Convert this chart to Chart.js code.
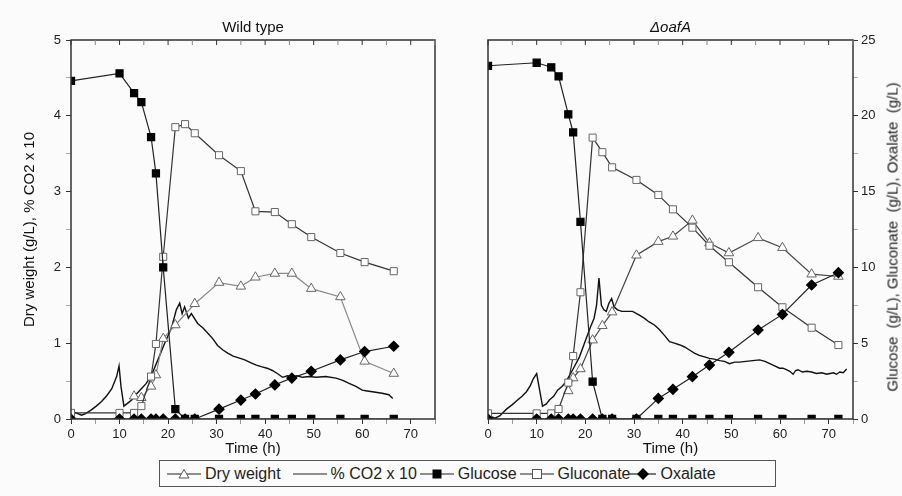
<!DOCTYPE html>
<html>
<head>
<meta charset="utf-8">
<script src="https://cdn.jsdelivr.net/npm/chart.js@4.4.1/dist/chart.umd.min.js"></script>
<style>
  body { margin: 0; background: #fbfbfb; font-family: "Liberation Sans", Arial, sans-serif; color: #222; }
  #wrap { position: relative; width: 902px; height: 496px; overflow: hidden; }
  .panel { position: absolute; top: 0; }
  #left-panel { left: 0; }
  #right-panel { left: 451px; }
  #g-title {
    position: absolute; left: 892px; top: 237px;
    transform: translate(-50%, -50%) rotate(-90deg);
    white-space: pre; font-size: 15px; color: #222;
  }
  #legend {
    position: absolute; left: 159px; top: 460px; width: 608px; height: 25px;
    border: 1.5px solid #555; background: #fbfbfb;
    display: flex; align-items: center; padding-left: 7px; box-sizing: content-box;
    font-size: 16px; color: #222;
  }
  #legend .item { display: flex; align-items: center; }
  #legend svg { margin-right: 4px; }
</style>
</head>
<body>
<div id="wrap">
  <canvas id="left-panel" class="panel" width="451" height="496"></canvas>
  <canvas id="right-panel" class="panel" width="451" height="496"></canvas>
  <div id="g-title">Glucose  (g/L), Gluconate  (g/L), Oxalate  (g/L)</div>
  <div id="legend"></div>
</div>
<script>
// ---- Wild type ----
const wtTime = [0, 10, 13, 14.5, 16.5, 17.5, 19, 21.5, 23.5, 25.5, 30.5, 35, 38, 42, 45.5, 49.5, 55.5, 60.5, 66.5];
const wtGlucose = [22.3, 22.8, 21.5, 20.9, 18.6, 16.2, 10.0, 0.65, 0, 0, 0, 0, 0, 0, 0, 0, 0, 0, 0];
const wtGluconate = [0.4, 0.4, 0.4, 0.85, 2.8, 4.95, 10.7, 19.25, 19.45, 18.85, 17.4, 16.35, 13.7, 13.65, 12.85, 12.0, 10.95, 10.35, 9.75];
const wtOxalate = [0, 0, 0, 0, 0, 0, 0, 0, 0, 0, 0.65, 1.25, 1.65, 2.25, 2.7, 3.15, 3.9, 4.45, 4.8];
const wtDryTime = [13, 14.5, 16.5, 17.5, 19, 21.5, 25.5, 30.5, 35, 38, 42, 45.5, 49.5, 55.5, 60.5, 66.5];
const wtDry = [0.30, 0.28, 0.43, 0.58, 1.06, 1.24, 1.52, 1.80, 1.75, 1.87, 1.92, 1.92, 1.72, 1.61, 0.76, 0.60];
const wtCo2Time = [0, 1, 2.2, 3, 4.2, 5.2, 6.3, 7.4, 8.4, 9.4, 9.9, 10.3, 10.9, 11.7, 12.5, 13.5, 14.5, 15.5, 16.6, 17.9,
  19.3, 20.7, 21.7, 22.4, 22.9, 23.4, 24.2, 24.8, 26.1, 27.2, 28.2, 29.2, 30.2, 31.3, 32.3, 33.4, 34.4, 35.8, 37.1, 38.2,
  39.2, 40.4, 41.5, 42.5, 43.6, 44.6, 45.6, 46.6, 47.7, 49.1, 50.5, 52.5, 54.6, 56, 57.3, 58.7, 60, 61, 62.1, 63.1,
  64.1, 65.5, 66.3];
const wtCo2 = [0.1, 0.08, 0.05, 0.07, 0.12, 0.17, 0.23, 0.31, 0.4, 0.56, 0.7, 0.43, 0.17, 0.21, 0.25, 0.33, 0.4, 0.47, 0.58, 0.78,
  1.0, 1.2, 1.44, 1.53, 1.39, 1.48, 1.33, 1.39, 1.26, 1.2, 1.13, 1.06, 0.97, 0.91, 0.87, 0.83, 0.81, 0.78, 0.74, 0.71,
  0.69, 0.67, 0.64, 0.6, 0.55, 0.57, 0.56, 0.57, 0.55, 0.56, 0.55, 0.56, 0.54, 0.51, 0.47, 0.43, 0.38, 0.37, 0.36, 0.35,
  0.34, 0.32, 0.27];

// ---- oafA deletion ----
const koTime = [0, 10, 13, 14.5, 16.5, 17.5, 19, 21.5, 23.5, 25.5, 30.5, 35, 38, 42, 45.5, 49.5, 55.5, 60.5, 66.5, 72];
const koGlucose = [23.3, 23.5, 23.2, 22.6, 20.1, 18.9, 13.0, 2.46, 0, 0, 0, 0, 0, 0, 0, 0, 0, 0, 0, 0];
const koGluconate = [0.37, 0.37, 0.37, 0.66, 2.4, 4.15, 8.36, 18.56, 17.6, 16.6, 15.77, 14.78, 13.83, 12.62, 11.43, 10.34, 8.69, 7.37, 6.02, 4.88];
const koOxalate = [0, 0, 0, 0, 0, 0, 0, 0, 0, 0, 0, 1.36, 1.96, 2.79, 3.56, 4.4, 5.87, 6.9, 8.84, 9.65];
const koDryTime = [16.5, 17.5, 19, 21.5, 23.5, 25.5, 30.5, 35, 38, 42, 45.5, 49.5, 55.5, 60.5, 66.5, 72];
const koDry = [0.37, 0.54, 0.66, 1.04, 1.23, 1.41, 2.16, 2.34, 2.41, 2.62, 2.32, 2.19, 2.39, 2.26, 1.91, 1.88];
const koCo2Time = [0, 1.4, 2.4, 3.8, 5, 5.9, 7, 7.9, 8.7, 9.3, 10, 10.5, 11.2, 12, 12.6, 13.5, 14.3, 15.2, 16, 17.4,
  18.8, 20.1, 21.1, 21.8, 22.3, 22.8, 23.3, 23.8, 24.3, 24.8, 25.4, 25.9, 26.6, 27.5, 28.3, 29.7, 31.1, 32.1, 33.1, 34.2,
  35.2, 36.3, 37.3, 38.3, 39.3, 40.4, 41.4, 42.4, 43.4, 44.5, 45.5, 46.5, 47.6, 48.6, 49.6, 50.7, 51.7, 53, 54.4, 55.8,
  56.9, 57.9, 58.9, 59.9, 60.6, 61.3, 62, 62.7, 63.2, 63.7, 64.6, 65.5, 66.5, 67.5, 68.6, 69.6, 70.3, 71, 71.6, 72.3,
  73, 73.7];
const koCo2 = [0.05, 0.01, 0.04, 0.13, 0.19, 0.24, 0.3, 0.36, 0.44, 0.53, 0.6, 0.42, 0.17, 0.2, 0.25, 0.3, 0.38, 0.43, 0.49, 0.65,
  0.82, 1.05, 1.22, 1.33, 1.5, 1.86, 1.5, 1.44, 1.42, 1.52, 1.59, 1.48, 1.44, 1.42, 1.42, 1.42, 1.37, 1.33, 1.28, 1.24,
  1.18, 1.1, 1.02, 1.0, 0.98, 0.95, 0.91, 0.87, 0.84, 0.82, 0.8, 0.79, 0.77, 0.76, 0.73, 0.75, 0.75, 0.76, 0.77, 0.78,
  0.76, 0.73, 0.7, 0.67, 0.67, 0.65, 0.63, 0.59, 0.64, 0.65, 0.62, 0.63, 0.62, 0.6, 0.61, 0.59, 0.6, 0.61, 0.59, 0.62,
  0.61, 0.66];

const xMax = 75;

Chart.defaults.font.family = '"Liberation Sans", Arial, sans-serif';
Chart.defaults.color = '#222';

function pts(xs, ys) {
  return xs.map((t, i) => ({x: t, y: ys[i]}));
}

function buildDatasets(p) {
  return [
    { label: 'Oxalate', data: pts(p.time, p.oxalate), yAxisID: 'g',
      borderColor: '#222', borderWidth: 1.2, pointStyle: 'rectRot', pointRadius: 5,
      pointBackgroundColor: '#000', pointBorderColor: '#000', clip: 0 },
    { label: 'Glucose', data: pts(p.time, p.glucose), yAxisID: 'g',
      borderColor: '#222', borderWidth: 1.2, pointStyle: 'rect', pointRadius: 5,
      pointBackgroundColor: '#000', pointBorderColor: '#000', clip: 0 },
    { label: 'Gluconate', data: pts(p.time, p.gluconate), yAxisID: 'g',
      borderColor: '#333', borderWidth: 1.2, pointStyle: 'rect', pointRadius: 5,
      pointBackgroundColor: '#fff', pointBorderColor: '#666', pointBorderWidth: 1, clip: 0 },
    { label: 'Dry weight', data: pts(p.dryTime, p.dry), yAxisID: 'y',
      borderColor: p.dryColor, borderWidth: 1.2, pointStyle: 'triangle', pointRadius: 5.5,
      pointBackgroundColor: '#fff', pointBorderColor: '#666', pointBorderWidth: 1, clip: 0 },
    { label: '% CO2 x 10', data: pts(p.co2Time, p.co2), yAxisID: 'y',
      borderColor: '#111', borderWidth: 1.4, pointRadius: 0, clip: 0 }
  ];
}

// box around the plot and the inward ticks along the top edge
const frame = {
  id: 'frame',
  afterDatasetsDraw(chart) {
    const {ctx, chartArea: a, scales: {x}} = chart;
    ctx.save();
    ctx.strokeStyle = '#333';
    ctx.lineWidth = 1.5;
    ctx.strokeRect(a.left, a.top, a.right - a.left, a.bottom - a.top);
    ctx.lineWidth = 1;
    for (let t = 0; t <= x.max; t += 5) {
      const px = x.getPixelForValue(t);
      ctx.strokeStyle = t % 10 ? '#888' : '#333';
      ctx.beginPath();
      ctx.moveTo(px, a.top);
      ctx.lineTo(px, a.top + 5);
      ctx.stroke();
    }
    ctx.restore();
  }
};

function xScale() {
  return {
    type: 'linear', position: 'bottom', min: 0, max: xMax,
    ticks: { stepSize: 5, autoSkip: false, maxRotation: 0, padding: 3,
      font: {size: 13}, callback: v => v % 10 ? '' : v },
    grid: { drawOnChartArea: false, tickLength: 5,
      tickColor: c => c.tick && c.tick.value % 10 ? '#999' : '#333' },
    border: { display: false },
    title: { display: true, text: 'Time (h)', font: {size: 15}, color: '#111', padding: {top: 0, bottom: 6} },
    afterFit: s => { s.height = 45; }
  };
}

function makePanel(id, p) {
  const left = p.side === 'left';
  return new Chart(document.getElementById(id), {
    type: 'line',
    data: { datasets: buildDatasets(p) },
    options: {
      responsive: false,
      animation: false,
      events: [],
      layout: { padding: { left: left ? 0 : 37, right: left ? 16 : 0, top: 0, bottom: 32 } },
      plugins: {
        legend: { display: false },
        tooltip: { enabled: false },
        title: { display: true, text: p.title, fullSize: false, color: '#111',
          font: { size: 15, weight: 'normal', style: left ? 'normal' : 'italic' },
          padding: { top: 19, bottom: 3 } }
      },
      scales: {
        x: xScale(),
        y: {
          display: left, position: 'left', min: 0, max: 5,
          ticks: { stepSize: 0.5, padding: 5, font: {size: 13}, callback: v => v % 1 ? '' : v },
          grid: { drawOnChartArea: false, tickLength: 5,
            tickColor: c => c.tick && c.tick.value % 1 ? '#aaa' : '#333' },
          border: { display: false },
          title: { display: true, text: 'Dry weight (g/L), % CO2 x 10', font: {size: 15}, color: '#111',
            padding: {top: 21, bottom: 0} },
          afterFit: s => { if (s.options.display) s.width = 71; }
        },
        g: {
          display: !left, position: 'right', min: 0, max: 25,
          ticks: { stepSize: 2.5, padding: 3, font: {size: 13}, callback: v => v % 5 ? '' : v },
          grid: { drawOnChartArea: false, tickLength: 5,
            tickColor: c => c.tick && c.tick.value % 5 ? '#aaa' : '#333' },
          border: { display: false },
          afterFit: s => { if (s.options.display) s.width = 49; }
        }
      }
    },
    plugins: [frame]
  });
}

makePanel('left-panel', {
  side: 'left', title: 'Wild type', dryColor: '#888',
  time: wtTime, glucose: wtGlucose, gluconate: wtGluconate, oxalate: wtOxalate,
  dryTime: wtDryTime, dry: wtDry, co2Time: wtCo2Time, co2: wtCo2
});

makePanel('right-panel', {
  side: 'right', title: '\u0394oafA', dryColor: '#444',
  time: koTime, glucose: koGlucose, gluconate: koGluconate, oxalate: koOxalate,
  dryTime: koDryTime, dry: koDry, co2Time: koCo2Time, co2: koCo2
});

// shared legend under both panels
const legendItems = [
  { text: 'Dry weight', gap: 12, w: 34, mark: '<polygon points="17,1.5 22,10 12,10" fill="#fff" stroke="#555" stroke-width="1"/>' },
  { text: '% CO2 x 10', gap: 3, w: 34, mark: '' },
  { text: 'Glucose', gap: 3, w: 34, mark: '<rect x="12.5" y="1.5" width="9" height="9" fill="#000"/>' },
  { text: 'Gluconate', gap: 0, w: 34, mark: '<rect x="12.5" y="1.5" width="9" height="9" fill="#fff" stroke="#555" stroke-width="1"/>' },
  { text: 'Oxalate', gap: 0, w: 26, mark: '<polygon points="13,0 19,6 13,12 7,6" fill="#000"/>' }
];
const legend = document.getElementById('legend');
for (const item of legendItems) {
  const el = document.createElement('div');
  el.className = 'item';
  el.style.marginRight = item.gap + 'px';
  el.innerHTML = `<svg width="${item.w}" height="12" viewBox="0 0 ${item.w} 12">` +
    `<line x1="0" y1="6" x2="${item.w}" y2="6" stroke="#222" stroke-width="1.2"/>` + item.mark + '</svg>';
  const span = document.createElement('span');
  span.textContent = item.text;
  el.appendChild(span);
  legend.appendChild(el);
}
</script>
</body>
</html>
